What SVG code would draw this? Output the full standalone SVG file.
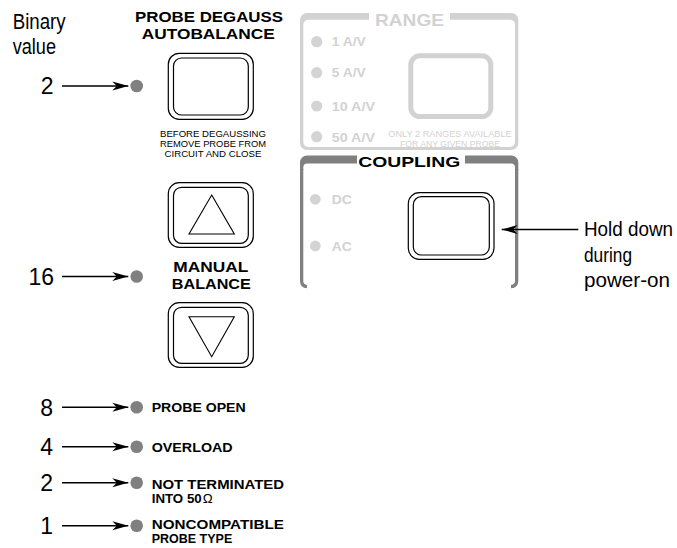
<svg xmlns="http://www.w3.org/2000/svg" width="677" height="548" viewBox="0 0 677 548">
<style>
.lbl{font-family:"Liberation Sans",Arial,sans-serif;font-size:22px;fill:#000}
.hd{font-family:"Liberation Sans",Arial,sans-serif;font-size:19.5px;fill:#000}
.num{font-family:"Liberation Sans",Arial,sans-serif;font-size:23px;fill:#000;text-anchor:end}
.b{font-family:"Liberation Sans",Arial,sans-serif;font-weight:bold;fill:#000}
.sm{font-family:"Liberation Sans",Arial,sans-serif;font-size:9.8px;fill:#000;text-anchor:middle}
.lg{fill:#d2d2d2}
.led{fill:#808080}
.lled{fill:#d4d4d4}
.btn{fill:#fff;stroke:#000;stroke-width:1.2}
.tri{fill:none;stroke:#000;stroke-width:1.1;stroke-linejoin:miter}
.con{stroke:#000;stroke-width:1.4;fill:none;marker-end:url(#ah)}
</style>
<defs>
<marker id="ah" markerUnits="userSpaceOnUse" markerWidth="20" markerHeight="12" viewBox="-17 -6 18 12" refX="0" refY="0" orient="auto">
<path d="M0,0 L-16,-4.5 L-11.5,0 L-16,4.5 Z" fill="#000"/>
</marker>
</defs>
<rect width="677" height="548" fill="#fff"/>

<g id="binary-value">
<text class="lbl" x="12.7" y="29.3" textLength="53" lengthAdjust="spacingAndGlyphs">Binary</text>
<text class="lbl" x="12.7" y="54.3" textLength="43.3" lengthAdjust="spacingAndGlyphs">value</text>
</g>

<g id="range-panel">
<rect x="300" y="13" width="218.3" height="137" rx="7" class="lg"/>
<rect x="303.3" y="19.8" width="211.7" height="127.2" rx="5" fill="#fff"/>
<rect x="369" y="11" width="81" height="10" fill="#fff"/>
<text class="b" x="409.5" y="26.2" font-size="16.5" text-anchor="middle" textLength="69" lengthAdjust="spacingAndGlyphs" style="fill:#d2d2d2">RANGE</text>
<circle cx="316.7" cy="41.7" r="5.6" class="lled"/>
<circle cx="316.7" cy="72.7" r="5.6" class="lled"/>
<circle cx="316.7" cy="106" r="5.6" class="lled"/>
<circle cx="316.7" cy="136.7" r="5.6" class="lled"/>
<g font-family="Liberation Sans,Arial,sans-serif" font-weight="bold" font-size="12.5" fill="#d2d2d2">
<text x="331.7" y="46" textLength="34" lengthAdjust="spacingAndGlyphs">1 A/V</text>
<text x="331.7" y="77" textLength="34" lengthAdjust="spacingAndGlyphs">5 A/V</text>
<text x="331.7" y="111" textLength="43.3" lengthAdjust="spacingAndGlyphs">10 A/V</text>
<text x="331.7" y="141.7" textLength="43.3" lengthAdjust="spacingAndGlyphs">50 A/V</text>
</g>
<rect x="410.8" y="55.8" width="80" height="60.8" rx="9" fill="#fff" stroke="#d2d2d2" stroke-width="5"/>
<g font-family="Liberation Sans,Arial,sans-serif" font-size="9.2" fill="#d2d2d2" text-anchor="middle">
<text x="450" y="137.3" textLength="123.4" lengthAdjust="spacingAndGlyphs">ONLY 2 RANGES AVAILABLE</text>
<text x="450" y="146.5" textLength="100" lengthAdjust="spacingAndGlyphs">FOR ANY GIVEN PROBE</text>
</g>
</g>

<g id="coupling-panel">
<path d="M300,170 V162.5 A7,7 0 0 1 307,155.5 H511.3 A7,7 0 0 1 518.3,162.5 V170 H515 V167.5 A4,4 0 0 0 511,163.5 H307.3 A4,4 0 0 0 303.3,167.5 V170 Z" fill="#808080"/>
<path d="M301.65,169 V281 Q301.65,286.3 307,286.6 M516.65,169 V281 Q516.65,286.3 511,286.6" fill="none" stroke="#808080" stroke-width="3.3"/>
<rect x="357" y="153" width="108" height="12" fill="#fff"/>
<text class="b" x="409.2" y="166.7" font-size="15.5" text-anchor="middle" textLength="102" lengthAdjust="spacingAndGlyphs">COUPLING</text>
<circle cx="315.3" cy="199.3" r="5.4" class="lled"/>
<circle cx="315.3" cy="246" r="5.4" class="lled"/>
<g font-family="Liberation Sans,Arial,sans-serif" font-weight="bold" font-size="12" fill="#d2d2d2">
<text x="331.7" y="203.5" textLength="20" lengthAdjust="spacingAndGlyphs">DC</text>
<text x="331.7" y="250.5" textLength="20" lengthAdjust="spacingAndGlyphs">AC</text>
</g>
<rect x="408.3" y="192.7" width="85.7" height="66.6" rx="11" class="btn"/>
<rect x="413.3" y="196.7" width="76" height="58.3" rx="8" class="btn"/>
</g>

<g id="hold-down-label">
<text class="hd" x="584" y="235.5" textLength="89" lengthAdjust="spacingAndGlyphs">Hold down</text>
<text class="hd" x="584" y="261.5" textLength="48" lengthAdjust="spacingAndGlyphs">during</text>
<text class="hd" x="584" y="286.7" textLength="86" lengthAdjust="spacingAndGlyphs">power-on</text>
</g>

<g id="probe-degauss">
<text class="b" x="209" y="21.7" font-size="15" text-anchor="middle" textLength="148" lengthAdjust="spacingAndGlyphs">PROBE DEGAUSS</text>
<text class="b" x="208.3" y="39.3" font-size="15" text-anchor="middle" textLength="133" lengthAdjust="spacingAndGlyphs">AUTOBALANCE</text>
<rect x="168.3" y="53.3" width="85" height="66" rx="11" class="btn"/>
<rect x="173.5" y="58" width="74.8" height="57" rx="8" class="btn"/>
<text class="sm" x="213" y="137.3" textLength="106" lengthAdjust="spacingAndGlyphs">BEFORE DEGAUSSING</text>
<text class="sm" x="213" y="147.3" textLength="106" lengthAdjust="spacingAndGlyphs">REMOVE PROBE FROM</text>
<text class="sm" x="213" y="157.3" textLength="97" lengthAdjust="spacingAndGlyphs">CIRCUIT AND CLOSE</text>
</g>

<g id="manual-balance">
<rect x="168.3" y="182.7" width="85" height="64.6" rx="11" class="btn"/>
<rect x="173.5" y="187.3" width="74.8" height="56" rx="8" class="btn"/>
<path d="M211.7,195 L234.3,234 L189,234 Z" class="tri"/>
<text class="b" x="210.8" y="272.3" font-size="15.5" text-anchor="middle" textLength="75" lengthAdjust="spacingAndGlyphs">MANUAL</text>
<text class="b" x="211.3" y="289" font-size="15.5" text-anchor="middle" textLength="79" lengthAdjust="spacingAndGlyphs">BALANCE</text>
<rect x="168.3" y="302.7" width="85" height="64.6" rx="11" class="btn"/>
<rect x="173.5" y="307.3" width="74.8" height="56" rx="8" class="btn"/>
<path d="M189,316.7 L234.3,316.7 L211.7,356.7 Z" class="tri"/>
</g>

<g id="led-degauss"><circle cx="136.7" cy="86" r="6.3" class="led"/><text class="num" x="53.5" y="94.2">2</text></g>
<g id="led-balance"><circle cx="136.7" cy="276.5" r="6.3" class="led"/><text class="num" x="54" y="284.6">16</text></g>
<g id="led-probe-open"><circle cx="136.7" cy="407.3" r="6.3" class="led"/><text class="num" x="53" y="415.5">8</text>
<text class="b" x="151.7" y="412.3" font-size="13.3" textLength="94" lengthAdjust="spacingAndGlyphs">PROBE OPEN</text></g>
<g id="led-overload"><circle cx="136.7" cy="446.7" r="6.3" class="led"/><text class="num" x="53" y="454.8">4</text>
<text class="b" x="151.7" y="452.3" font-size="13.3" textLength="81" lengthAdjust="spacingAndGlyphs">OVERLOAD</text></g>
<g id="led-not-terminated"><circle cx="136.7" cy="482.7" r="6.3" class="led"/><text class="num" x="53" y="490.8">2</text>
<text class="b" x="151.7" y="489" font-size="13.3" textLength="132.3" lengthAdjust="spacingAndGlyphs">NOT TERMINATED</text>
<text x="151.7" y="502.7" font-family="Liberation Sans,Arial,sans-serif" font-size="13.3"><tspan font-weight="bold">INTO 50</tspan><tspan dx="1">Ω</tspan></text></g>
<g id="led-noncompatible"><circle cx="136.7" cy="525.7" r="6.3" class="led"/><text class="num" x="53" y="533.8">1</text>
<text class="b" x="151.7" y="529.2" font-size="13.3" textLength="132.3" lengthAdjust="spacingAndGlyphs">NONCOMPATIBLE</text>
<text class="b" x="151.7" y="543.3" font-size="13.3" textLength="80.6" lengthAdjust="spacingAndGlyphs">PROBE TYPE</text></g>

<g id="connectors">
<line class="con" x1="62" y1="86" x2="128.3" y2="86"/>
<line class="con" x1="62" y1="276.5" x2="128.3" y2="276.5"/>
<line class="con" x1="62" y1="407.3" x2="128.3" y2="407.3"/>
<line class="con" x1="62" y1="446.7" x2="128.3" y2="446.7"/>
<line class="con" x1="62" y1="482.7" x2="128.3" y2="482.7"/>
<line class="con" x1="62" y1="525.7" x2="128.3" y2="525.7"/>
<line class="con" x1="578.3" y1="229.5" x2="501.7" y2="229.5"/>
</g>
</svg>
